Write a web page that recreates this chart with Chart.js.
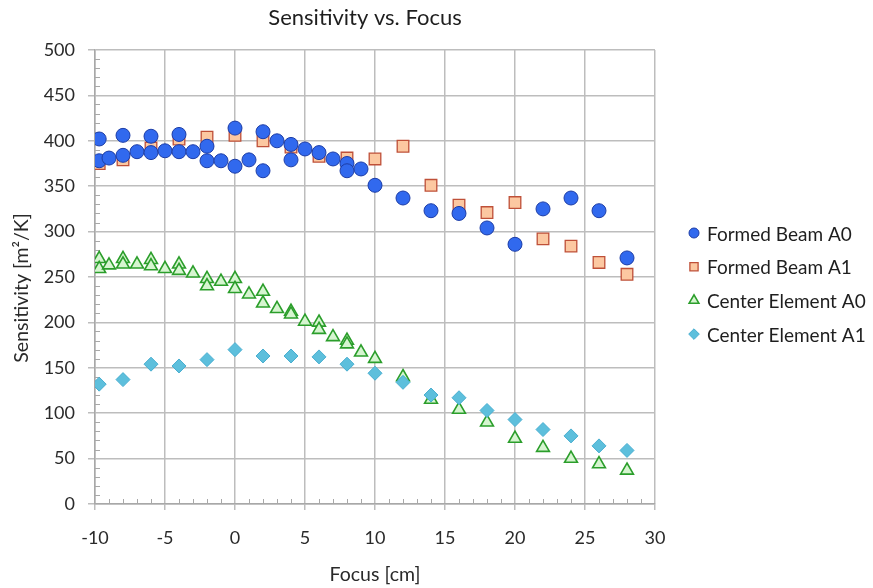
<!DOCTYPE html>
<html><head><meta charset="utf-8">
<script src="https://cdn.jsdelivr.net/npm/chart.js@4/dist/chart.umd.min.js"></script>
<style>html,body{margin:0;padding:0;background:#fff}#wrap{width:873px;height:588px;position:relative}</style>
</head><body><div id="wrap"><canvas id="c" width="873" height="588"></canvas></div>
<script>
const chartTitle = 'Sensitivity vs. Focus';
const xAxisTitle = 'Focus [cm]';
const yAxisTitle = 'Sensitivity [m²/K]';
const seriesNames = ['Formed Beam A0', 'Formed Beam A1', 'Center Element A0', 'Center Element A1'];
const xTickValues = [-10, -5, 0, 5, 10, 15, 20, 25, 30];
const yTickValues = [0, 50, 100, 150, 200, 250, 300, 350, 400, 450, 500];

const beamA0X = [-9.7, -9.7, -9, -8, -8, -7, -6, -6, -5, -4, -4, -3, -2, -2, -1, 0, 0, 1, 2, 2, 3, 4, 4, 5, 6, 7, 8, 8, 9, 10, 12, 14, 16, 18, 20, 22, 24, 26, 28];
const beamA0Y = [402, 378, 381, 406, 384, 388, 405, 387, 389, 407, 388, 388, 394, 378, 378, 414, 372, 379, 410, 367, 400, 396, 379, 391, 387, 380, 375, 367, 369, 351, 337, 323, 320, 304, 286, 325, 337, 323, 271];

const beamA1X = [-9.7, -8, -6, -4, -2, 0, 2, 4, 6, 8, 10, 12, 14, 16, 18, 20, 22, 24, 26, 28];
const beamA1Y = [375, 379, 392, 402, 404, 406, 400, 393, 383, 381, 380, 394, 351, 329, 321, 332, 292, 284, 266, 253];

const centerA0X = [-9.7, -9.7, -9, -8, -8, -7, -6, -6, -5, -4, -4, -3, -2, -2, -1, 0, 0, 1, 2, 2, 3, 4, 4, 5, 6, 6, 7, 8, 8, 9, 10, 12, 14, 16, 18, 20, 22, 24, 26, 28];
const centerA0Y = [270, 259, 263, 270, 264, 264, 269, 262, 259, 264, 257, 254, 248, 240, 245, 248, 237, 231, 234, 221, 215, 212, 209, 201, 200, 192, 184, 180, 176, 167, 160, 140, 115, 104, 90, 72, 62, 50, 44, 37];

const centerA1X = [-9.7, -8, -6, -4, -2, 0, 2, 4, 6, 8, 10, 12, 14, 16, 18, 20, 22, 24, 26, 28];
const centerA1Y = [132, 137, 154, 152, 159, 170, 163, 163, 162, 154, 144, 134, 120, 117, 103, 93, 82, 75, 64, 59];

const toPoints = (xs, ys) => xs.map((x, i) => ({x: x, y: ys[i]}));

const FONT = 'Lato, "Open Sans", sans-serif';
const styles = [
  {pointStyle: 'circle', radius: 7, bg: '#3169ee', border: '#1d3da6', bw: 1, lr: 5},
  {pointStyle: 'rect', radius: 8.2, bg: '#fcc8a1', border: '#bf5038', bw: 1.3, lr: 5.8},
  {pointStyle: 'triangle', radius: 7.4, bg: '#d6f5d0', border: '#2b9e2b', bw: 1.6, lr: 5.6},
  {pointStyle: 'rectRot', radius: 7, bg: '#5dbfdc', border: '#48aed0', bw: 1, lr: 5.3}
];
const orders = [0, 1, 3, 2];
const dataSets = [toPoints(beamA0X, beamA0Y), toPoints(beamA1X, beamA1Y), toPoints(centerA0X, centerA0Y), toPoints(centerA1X, centerA1Y)];

function drawShape(ctx, s, x, y, r) {
  ctx.save();
  ctx.fillStyle = s.bg; ctx.strokeStyle = s.border; ctx.lineWidth = s.bw;
  ctx.beginPath();
  if (s.pointStyle === 'circle') {
    ctx.arc(x, y, r, 0, Math.PI * 2);
  } else if (s.pointStyle === 'rect') {
    const h = r * Math.SQRT1_2;
    ctx.rect(x - h, y - h, 2 * h, 2 * h);
  } else if (s.pointStyle === 'triangle') {
    const e = 3 * r / Math.sqrt(3), ht = e * Math.sqrt(3) / 2;
    ctx.moveTo(x - e / 2, y + ht / 3);
    ctx.lineTo(x + e / 2, y + ht / 3);
    ctx.lineTo(x, y - 2 * ht / 3);
    ctx.closePath();
  } else {
    ctx.moveTo(x, y - r); ctx.lineTo(x + r, y); ctx.lineTo(x, y + r); ctx.lineTo(x - r, y); ctx.closePath();
  }
  ctx.fill(); ctx.stroke();
  ctx.restore();
}

const extras = {
  id: 'extras',
  beforeDatasetsDraw(chart) {
    const ctx = chart.ctx, xs = chart.scales.x, ys = chart.scales.y, a = chart.chartArea;
    ctx.save();
    ctx.strokeStyle = '#a8a8a8'; ctx.lineWidth = 1;
    ctx.beginPath();
    for (let v = xs.min; v <= xs.max; v += 1) {
      if (v % 5 === 0) continue;
      const px = Math.round(xs.getPixelForValue(v)) + 0.5;
      ctx.moveTo(px, a.bottom); ctx.lineTo(px, a.bottom - 5);
    }
    for (let v = ys.min; v <= ys.max; v += 10) {
      if (v % 50 === 0) continue;
      const py = Math.round(ys.getPixelForValue(v)) + 0.5;
      ctx.moveTo(a.left, py); ctx.lineTo(a.left + 5, py);
    }
    ctx.stroke();
    ctx.restore();
  },
  afterDraw(chart) {
    const ctx = chart.ctx, a = chart.chartArea;
    ctx.save();
    ctx.fillStyle = '#1e1e1e';
    ctx.font = '22px ' + FONT;
    ctx.textAlign = 'center'; ctx.textBaseline = 'middle';
    ctx.fillText(chartTitle, 365, 18);
    ctx.fillStyle = '#2a2a2a';
    ctx.font = '19.5px ' + FONT;
    ctx.fillText(xAxisTitle, (a.left + a.right) / 2, 575);
    ctx.save();
    ctx.translate(22, 288);
    ctx.rotate(-Math.PI / 2);
    ctx.fillText(yAxisTitle, 0, 0);
    ctx.restore();
    ctx.fillStyle = '#1e1e1e';
    ctx.font = '19px ' + FONT;
    ctx.textAlign = 'left';
    const ys = [234.5, 268.2, 301.9, 335.6];
    seriesNames.forEach((n, i) => {
      drawShape(ctx, styles[i], 694, ys[i] - 1.5, styles[i].lr);
      ctx.fillStyle = '#1e1e1e';
      ctx.fillText(n, 707, ys[i]);
    });
    ctx.restore();
  }
};

new Chart(document.getElementById('c'), {
  type: 'scatter',
  data: {
    datasets: dataSets.map((d, i) => ({
      label: seriesNames[i],
      data: d,
      order: orders[i],
      pointStyle: styles[i].pointStyle,
      pointRadius: styles[i].radius,
      pointHoverRadius: styles[i].radius,
      backgroundColor: styles[i].bg,
      borderColor: styles[i].border,
      borderWidth: styles[i].bw,
      showLine: false
    }))
  },
  options: {
    responsive: false,
    animation: false,
    events: [],
    layout: {padding: {left: 0, right: 218, top: 50, bottom: 0}},
    plugins: {legend: {display: false}, tooltip: {enabled: false}, title: {display: false}},
    scales: {
      x: {
        type: 'linear', min: -10, max: 30,
        afterBuildTicks: s => { s.ticks = xTickValues.map(v => ({value: v})); },
        afterFit: s => { s.height = 84; },
        grid: {color: '#bdbdbd', lineWidth: 1.5, tickLength: 6, tickColor: '#bdbdbd'},
        border: {color: '#a8a8a8', width: 1.5},
        ticks: {color: '#2a2a2a', font: {family: FONT, size: 18}, padding: 17, maxRotation: 0},
        title: {display: false}
      },
      y: {
        type: 'linear', min: 0, max: 500,
        afterBuildTicks: s => { s.ticks = yTickValues.map(v => ({value: v})); },
        afterFit: s => { s.width = 95; },
        grid: {color: '#bdbdbd', lineWidth: 1.5, tickLength: 7, tickColor: '#bdbdbd'},
        border: {color: '#a8a8a8', width: 1.5},
        ticks: {color: '#2a2a2a', font: {family: FONT, size: 18}, padding: 13},
        title: {display: false}
      }
    }
  },
  plugins: [extras]
});
</script>
</body></html>
